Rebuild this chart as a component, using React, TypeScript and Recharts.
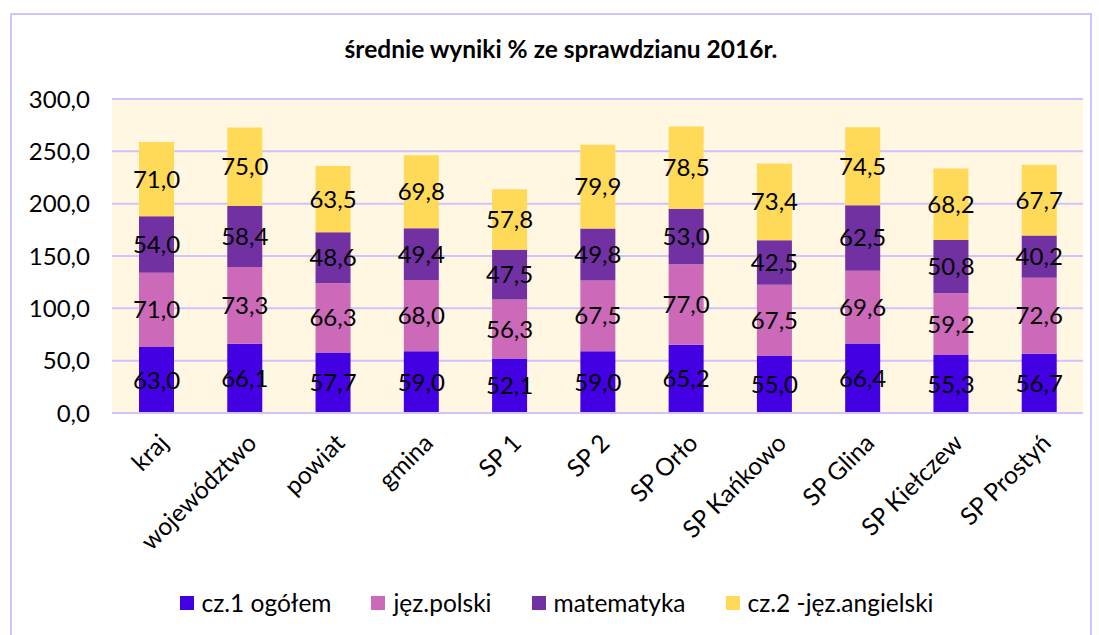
import React from "react";
import {
  BarChart,
  Bar,
  XAxis,
  YAxis,
  CartesianGrid,
  Legend,
  LabelList,
} from "recharts";

const categories = [
  "kraj",
  "województwo",
  "powiat",
  "gmina",
  "SP 1",
  "SP 2",
  "SP Orło",
  "SP Kańkowo",
  "SP Glina",
  "SP Kiełczew",
  "SP Prostyń",
];

const ogolem = [63.0, 66.1, 57.7, 59.0, 52.1, 59.0, 65.2, 55.0, 66.4, 55.3, 56.7];
const polski = [71.0, 73.3, 66.3, 68.0, 56.3, 67.5, 77.0, 67.5, 69.6, 59.2, 72.6];
const matematyka = [54.0, 58.4, 48.6, 49.4, 47.5, 49.8, 53.0, 42.5, 62.5, 50.8, 40.2];
const angielski = [71.0, 75.0, 63.5, 69.8, 57.8, 79.9, 78.5, 73.4, 74.5, 68.2, 67.7];

const yTicks = [0, 50, 100, 150, 200, 250, 300];

const data = categories.map((name, i) => ({
  name,
  ogolem: ogolem[i],
  polski: polski[i],
  matematyka: matematyka[i],
  angielski: angielski[i],
}));

const series = [
  { key: "ogolem", label: "cz.1 ogółem", color: "#4300E2" },
  { key: "polski", label: "jęz.polski", color: "#CC69B8" },
  { key: "matematyka", label: "matematyka", color: "#7131A3" },
  { key: "angielski", label: "cz.2 -jęz.angielski", color: "#FFD958" },
];

const FONT = "Lato, 'Noto Sans', sans-serif";
const fmt = (v: number) => v.toFixed(1).replace(".", ",");

const XTick = (props: any) => {
  const { x, y, payload } = props;
  return (
    <g transform={`translate(${x + 8},${y + 18})`}>
      <text
        transform="rotate(-45)"
        textAnchor="end"
        fontSize={24.5}
        fontFamily={FONT}
        fill="#000"
        dy={8}
      >
        {payload.value}
      </text>
    </g>
  );
};

const LegendContent = () => (
  <div
    style={{
      display: "flex",
      justifyContent: "center",
      gap: 40,
      fontFamily: FONT,
      fontSize: 24.5,
      color: "#000",
      paddingLeft: 14,
    }}
  >
    {series.map((s) => (
      <div key={s.key} style={{ display: "flex", alignItems: "center" }}>
        <span
          style={{
            display: "inline-block",
            width: 14,
            height: 14,
            background: s.color,
            marginRight: 8,
          }}
        />
        {s.label}
      </div>
    ))}
  </div>
);

export default function App() {
  return (
    <div
      style={{
        position: "absolute",
        left: 0,
        top: 0,
        width: 1099,
        height: 635,
        background: "#fff",
        overflow: "hidden",
      }}
    >
      <div
        style={{
          position: "absolute",
          left: 10,
          top: 13,
          width: 1078,
          height: 640,
          border: "2px solid #CFC2FF",
        }}
      />
      <div
        style={{
          position: "absolute",
          left: 0,
          top: 34,
          width: 1122,
          textAlign: "center",
          fontFamily: FONT,
          fontWeight: "bold",
          fontSize: 24.5,
          color: "#000",
        }}
      >
        średnie wyniki % ze sprawdzianu 2016r.
      </div>
      <BarChart
        width={1099}
        height={635}
        data={data}
        margin={{ top: 99, right: 16, bottom: 0, left: 0 }}
        barSize={35}
      >
        <CartesianGrid
          vertical={false}
          stroke="#CFC2FF"
          strokeWidth={2}
          fill="#FFF7E2"
        />
        <XAxis
          dataKey="name"
          interval={0}
          height={222}
          tickLine={false}
          axisLine={{ stroke: "#CFC2FF", strokeWidth: 2 }}
          tick={<XTick />}
        />
        <YAxis
          width={112}
          domain={[0, 300]}
          ticks={yTicks}
          tickFormatter={fmt}
          axisLine={false}
          tickLine={false}
          tickSize={0}
          tickMargin={22}
          tick={{ fontSize: 24, fontFamily: FONT, fill: "#000" }}
        />
        <Legend
          verticalAlign="middle"
          layout="horizontal"
          content={<LegendContent />}
          wrapperStyle={{ position: "absolute", top: 588, left: 0, width: 1099 }}
        />
        {series.map((s) => (
          <Bar
            key={s.key}
            dataKey={s.key}
            name={s.label}
            stackId="a"
            fill={s.color}
            isAnimationActive={false}
          >
            <LabelList
              dataKey={s.key}
              position="center"
              formatter={(v: any) => fmt(Number(v))}
              fill="#000"
              fontSize={24}
              fontFamily={FONT}
            />
          </Bar>
        ))}
      </BarChart>
    </div>
  );
}
